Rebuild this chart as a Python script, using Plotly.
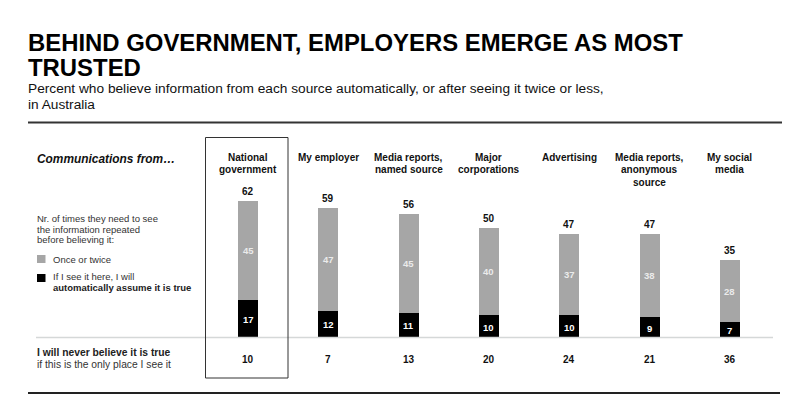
import plotly.graph_objects as go

# ---------------- data ----------------
categories = ["National\ngovernment", "My employer", "Media reports,\nnamed source",
              "Major\ncorporations", "Advertising", "Media reports,\nanonymous\nsource",
              "My social\nmedia"]
automatic = [17, 12, 11, 10, 10, 9, 7]          # black: automatically assume true
once_twice = [45, 47, 45, 40, 37, 38, 28]       # gray: once or twice
totals = [62, 59, 56, 50, 47, 47, 35]
never = [10, 7, 13, 20, 24, 21, 36]

title_lines = ["BEHIND GOVERNMENT, EMPLOYERS EMERGE AS MOST", "TRUSTED"]
subtitle_lines = ["Percent who believe information from each source automatically, or after seeing it twice or less,",
                  "in Australia"]

# ---------------- layout geometry (page pixels) ----------------
OFF = 8                     # default page margin around the plot div
W, H = 800 - OFF, 412 - OFF
X0_PX, STEP_PX = 248, 80.33      # centre of first bar (page px), spacing
BASE_PX, UNIT_PX = 337, 2.19     # baseline y (page px from top), px per percentage point

x_lo = -(X0_PX - OFF) / STEP_PX
x_hi = x_lo + W / STEP_PX
y_lo = -(H - (BASE_PX - OFF)) / UNIT_PX
y_hi = y_lo + H / UNIT_PX

FONT = "Liberation Sans, Arial, Helvetica, sans-serif"
GRAY = "#a6a6a6"


def px(x):
    return (x - OFF) / W


def py(y):
    return 1 - (y - OFF) / H


xs = list(range(len(categories)))

fig = go.Figure()
fig.add_trace(go.Bar(x=xs, y=automatic, marker=dict(color="#000000", line=dict(width=0)),
                     width=20 / STEP_PX, hoverinfo="skip", name="auto"))
fig.add_trace(go.Bar(x=xs, y=once_twice, marker=dict(color=GRAY, line=dict(width=0)),
                     width=20 / STEP_PX, hoverinfo="skip", name="once"))

ann = []


def text(x, y, s, size, color="#000", bold=False, italic=False, anchor="left", xref="paper", yref="paper",
         yshift=0):
    if bold:
        s = "<b>" + s + "</b>"
    if italic:
        s = "<i>" + s + "</i>"
    ann.append(dict(x=x, y=y, xref=xref, yref=yref, text=s, showarrow=False, xanchor=anchor,
                    yanchor="middle", yshift=yshift,
                    font=dict(family=FONT, size=size, color=color), borderpad=0))


# title
text(px(27), py(42.5), title_lines[0], 23.9, bold=True)
text(px(27), py(67.5), title_lines[1], 23.9, bold=True)
text(px(27), py(88.5), subtitle_lines[0], 13.7, color="#111")
text(px(27), py(104.5), subtitle_lines[1], 13.7, color="#111")

# left panel
text(px(36), py(158.5), "Communications from…", 11.9, bold=True, italic=True, color="#111")
for i, line in enumerate(["Nr. of times they need to see", "the information repeated", "before believing it:"]):
    text(px(36), py(218.5 + i * 10.5), line, 9.5, color="#333")
text(px(52), py(259), "Once or twice", 9.5, color="#333")
text(px(52), py(276.5), "If I see it here, I will", 9.5, color="#333")
text(px(52), py(287), "automatically assume it is true", 9.5, bold=True, color="#222")
text(px(36), py(352), "I will never believe it is true", 10.3, bold=True, color="#222")
text(px(36), py(364.5), "if this is the only place I see it", 10.3, color="#333")

# category headers
for i, cat in enumerate(categories):
    for j, line in enumerate(cat.split("\n")):
        text(i, py(157.5 + j * 12.3), line, 10, bold=True, anchor="center", xref="x", color="#111")

# values
for i in xs:
    text(i, totals[i], str(totals[i]), 10, bold=True, anchor="center", xref="x", yref="y", yshift=9.5,
         color="#111")
    text(i, automatic[i] + once_twice[i] / 2, str(once_twice[i]), 9.5, bold=True, anchor="center",
         xref="x", yref="y", color="#ebebeb")
    text(i, automatic[i] / 2, str(automatic[i]), 9.5, bold=True, anchor="center", xref="x", yref="y",
         yshift=-1, color="#ffffff")
    text(i, py(359), str(never[i]), 10, bold=True, anchor="center", xref="x", color="#111")

shapes = [
    # top and bottom rules
    dict(type="line", xref="paper", yref="paper", x0=px(28), x1=px(782), y0=py(122.5), y1=py(122.5),
         line=dict(color="#333", width=2)),
    dict(type="line", xref="paper", yref="paper", x0=px(28), x1=px(780), y0=py(393), y1=py(393),
         line=dict(color="#222", width=2)),
    # baseline
    dict(type="line", xref="paper", yref="paper", x0=px(36), x1=px(773), y0=py(337.5), y1=py(337.5),
         line=dict(color="#d5d8d8", width=1.5)),
    # highlight box
    dict(type="rect", xref="paper", yref="paper", x0=px(205.5), x1=px(288), y0=py(137.5), y1=py(378),
         line=dict(color="#333", width=1), fillcolor="rgba(0,0,0,0)"),
    # legend squares
    dict(type="rect", xref="paper", yref="paper", x0=px(37), x1=px(45.5), y0=py(255), y1=py(263),
         line=dict(width=0), fillcolor=GRAY),
    dict(type="rect", xref="paper", yref="paper", x0=px(37), x1=px(45.5), y0=py(274), y1=py(282),
         line=dict(width=0), fillcolor="#000"),
]

fig.update_layout(
    width=W, height=H, margin=dict(l=0, r=0, t=0, b=0),
    paper_bgcolor="white", plot_bgcolor="white",
    barmode="stack", showlegend=False,
    xaxis=dict(range=[x_lo, x_hi], visible=False, fixedrange=True),
    yaxis=dict(range=[y_lo, y_hi], visible=False, fixedrange=True),
    annotations=ann, shapes=shapes,
)
fig.write_html("out.html")
